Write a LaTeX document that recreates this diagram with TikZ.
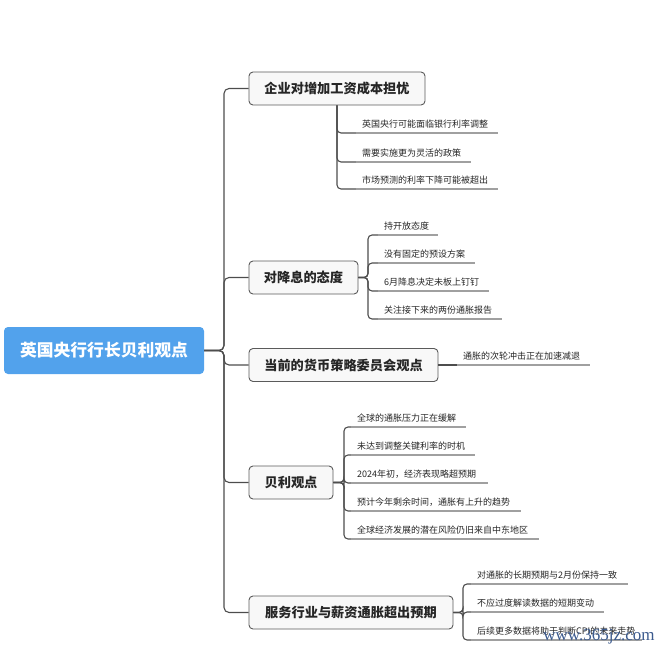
\documentclass[tikz,border=0pt]{standalone}
\usepackage{fontspec}
\setmainfont{Noto Sans CJK SC}
\newfontfamily\wmfont{Liberation Serif}
\definecolor{rootblue}{HTML}{52A2EC}
\definecolor{boxfill}{HTML}{F8F8F8}
\definecolor{boxline}{HTML}{5A5A5A}
\definecolor{connc}{HTML}{4D4D4D}
\definecolor{ulc}{HTML}{A0A0A0}
\definecolor{wmc}{HTML}{3B5A8E}
\tikzset{
  rootbox/.style={fill=rootblue, draw=none, rounded corners=4pt, text=white,
    font=\fontsize{16.8}{18}\selectfont\bfseries, minimum width=200pt, minimum height=47pt, inner sep=0pt},
  mainbox/.style={fill=boxfill, draw=boxline, line width=0.9pt, rounded corners=4pt,
    font=\fontsize{13.2}{15}\selectfont\bfseries, minimum height=33pt, inner sep=0pt, text=black!85},
  item/.style={anchor=south west, font=\fontsize{9}{10}\selectfont, inner xsep=6pt, inner ysep=3pt,
    text height=8pt, text depth=2.5pt, text width=#1, align=left, text=black!85},
  conn/.style={draw=connc, line width=1.1pt, rounded corners=5pt},
  uline/.style={draw=ulc, line width=1.1pt}
}
\begin{document}
\begin{tikzpicture}[x=1pt,y=-1pt]
\useasboundingbox (0,0) rectangle (666,655);
% root
\node[rootbox] (root) at (104,350.5) {英国央行行长贝利观点};
\coordinate (tr) at (224,350.5);
% main branches
\node[mainbox, minimum width=176pt] (b1) at (337,88.5) {企业对增加工资成本担忧};
\node[mainbox, minimum width=109pt] (b2) at (303.5,277.5) {对降息的态度};
\node[mainbox, minimum width=189pt] (b3) at (343.5,365) {当前的货币策略委员会观点};
\node[mainbox, minimum width=84pt] (b4) at (291,482.5) {贝利观点};
\node[mainbox, minimum width=204pt] (b5) at (351,612.5) {服务行业与薪资通胀超出预期};
\foreach \b in {b1,b2,b3,b4,b5}{
  \draw[conn] (root.east) -- (tr) |- (\b.west);
}
% branch 1 items
\node[item=130pt] (i11) at (356,133) {英国央行可能面临银行利率调整};
\node[item=103pt] (i12) at (356,162) {需要实施更为灵活的政策};
\node[item=130pt] (i13) at (356,189) {市场预测的利率下降可能被超出};
\foreach \i in {i11,i12,i13}{
  \draw[conn,rounded corners=4pt] (b1.south) |- (\i.south west);
  \draw[uline] (\i.south west) -- (\i.south east);
}
% branch 2 items
\coordinate (v2) at (368,277.5);
\node[item=48pt] (i21) at (378,235) {持开放态度};
\node[item=85pt] (i22) at (378,263) {没有固定的预设方案};
\node[item=99pt] (i23) at (378,291) {6月降息决定未板上钉钉};
\node[item=112pt] (i24) at (378,319) {关注接下来的两份通胀报告};
\foreach \i in {i21,i22,i23,i24}{
  \draw[conn,rounded corners=4pt] (b2.east) -- (v2) |- (\i.south west);
  \draw[uline] (\i.south west) -- (\i.south east);
}
% branch 3 item
\node[item=121pt] (i31) at (457,365) {通胀的次轮冲击正在加速减退};
\draw[conn] (b3.east) -- (i31.south west);
\draw[uline] (i31.south west) -- (i31.south east);
% branch 4 items
\coordinate (v4) at (344,482.5);
\node[item=103pt] (i41) at (351,427) {全球的通胀压力正在缓解};
\node[item=112pt] (i42) at (351,455) {未达到调整关键利率的时机};
\node[item=125pt] (i43) at (351,483) {2024年初，经济表现略超预期};
\node[item=158pt] (i44) at (351,511) {预计今年剩余时间，通胀有上升的趋势};
\node[item=176pt] (i45) at (351,539) {全球经济发展的潜在风险仍旧来自中东地区};
\foreach \i in {i41,i42,i43,i44,i45}{
  \draw[conn,rounded corners=4pt] (b4.east) -- (v4) |- (\i.south west);
  \draw[uline] (\i.south west) -- (\i.south east);
}
% branch 5 items
\coordinate (v5) at (463,612.5);
\node[item=145pt] (i51) at (471,584) {对通胀的长期预期与2月份保持一致};
\node[item=121pt] (i52) at (471,612) {不应过度解读数据的短期变动};
\node[item=159pt] (i53) at (471,640) {后续更多数据将助于判断CPI的未来走势};
\foreach \i in {i51,i52,i53}{
  \draw[conn,rounded corners=4pt] (b5.east) -- (v5) |- (\i.south west);
  \draw[uline] (\i.south west) -- (\i.south east);
}
% watermark
\node[font=\wmfont\fontsize{17}{18}\selectfont, text=wmc, inner sep=0pt] (wm) at (599,637) {www.365jz.com};
\end{tikzpicture}
\end{document}
